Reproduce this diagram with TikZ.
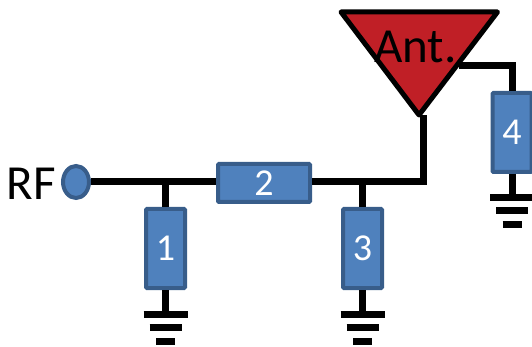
\documentclass[tikz,border=0pt]{standalone}
\usepackage{fontspec}
\setmainfont{Carlito}
\usetikzlibrary{calc,shapes.geometric}
\definecolor{boxfill}{HTML}{4F81BD}
\definecolor{boxline}{HTML}{385D8A}
\definecolor{antred}{HTML}{C01F26}
\tikzset{
    wire/.style={line width=7pt, black},
    stubv/.style={draw=boxline, fill=boxfill, line width=4pt, rounded corners=1pt, minimum width=39pt, minimum height=79pt, text=white, font=\fontsize{38}{38}\selectfont, inner sep=0pt},
    stubh/.style={stubv, minimum width=92pt, minimum height=38pt},
    lbl/.style={font=\fontsize{49}{49}\selectfont, inner sep=0pt}
}
\begin{document}
\begin{tikzpicture}[x=1pt,y=-1pt]
    \useasboundingbox (0,0) rectangle (532,347);

    % Antenna
    \coordinate (antl) at (341,12);
    \coordinate (antr) at (497.5,12);
    \coordinate (anttip) at (419,115);
    \coordinate (antfeed) at (423,115.5);
    \coordinate (antside) at (459,66);
    \draw[fill=antred, line width=5pt, line join=round] (antl) -- (antr) -- (anttip) -- cycle;
    \node[lbl] (ant) at (415.5,47) {Ant.};

    % Port
    \node[draw=boxline, fill=boxfill, line width=4pt, ellipse, minimum width=26pt, minimum height=32pt, inner sep=0pt] (rf) at (76,182) {};
    \node[lbl, anchor=east] (rflabel) at (56,184) {RF};

    % Stubs
    \node[stubv] (one) at (165.5,248.5) {1};
    \node[stubh] (two) at (264,183) {2};
    \node[stubv] (three) at (362.5,248.5) {3};
    \node[stubv] (four) at (512,132.5) {4};

    % Wires
    \draw[wire] (rf.east) -- (rf.east -| two.west);
    \draw[wire, line join=miter] (two.east |- rf) -| (antfeed);
    \draw[wire] (one.north) -- (one.north |- rf);
    \draw[wire] (three.north) -- (three.north |- rf);
    \draw[wire, line join=miter] (antside) -| (four.north);

    % Ground symbols
    \foreach \stub in {one,three,four} {
        \coordinate (g) at ($(\stub.south)+(0,24)$);
        \draw[wire] (\stub.south) -- (g);
        \draw[wire] ($(g)+(-22,0)$) -- ($(g)+(22,0)$);
        \draw[wire] ($(g)+(-16,13)$) -- ($(g)+(16,13)$);
        \draw[wire] ($(g)+(-9.5,27)$) -- ($(g)+(9.5,27)$);
    }
\end{tikzpicture}
\end{document}
